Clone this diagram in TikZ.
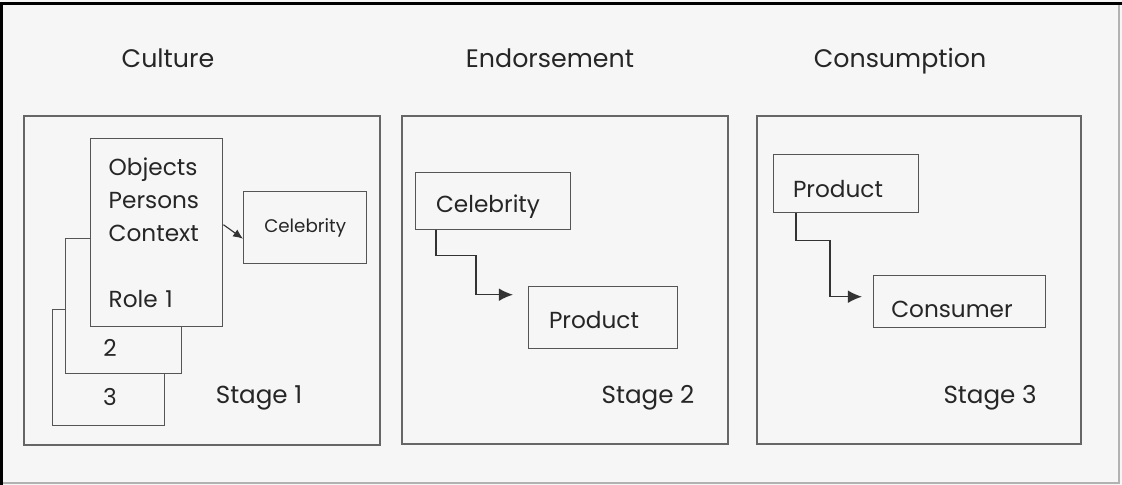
\documentclass[tikz,border=0pt]{standalone}
\usepackage{fontspec}
\setmainfont{Poppins}
\usepackage{xcolor}
\usetikzlibrary{arrows.meta, positioning, calc}

\definecolor{paper}{HTML}{F6F6F6}
\definecolor{ink}{HTML}{262626}
\definecolor{edge}{HTML}{555555}

\begin{document}
\begin{tikzpicture}[
  x=0.025cm, y=-0.025cm,
  title/.style   = {font=\fontsize{18}{21}\selectfont, text=ink, anchor=base},
  stagebox/.style= {rectangle, draw=edge!90, line width=1.3pt, fill=paper,
                    anchor=north west, inner sep=0pt},
  box/.style     = {rectangle, draw=edge, line width=1pt, fill=paper,
                    anchor=north west, inner sep=0pt},
  txt/.style     = {font=\fontsize{16.5}{19}\selectfont, text=ink},
  small/.style   = {font=\fontsize{13}{15}\selectfont, text=ink},
  stage/.style   = {font=\fontsize{17.5}{20}\selectfont, text=ink},
  arr/.style     = {-{Latex[length=10pt,width=9pt]}, line width=1pt, black!80},
  sarr/.style    = {-{Latex[length=7pt,width=6pt]}, line width=0.8pt, black!80}
]

% ── Frame ────────────────────────────────────────────────────────────────────
\fill[paper] (0,0) rectangle (1122,485);
\useasboundingbox (0,0) rectangle (1122,485);
\draw[black!30, line width=0.8pt] (1119,4) -- (1119,483) -- (1,483);
\draw[black, line width=2.4pt] (1,485) -- (1,3.5) -- (1122,3.5);

% ── Titles ───────────────────────────────────────────────────────────────────
\node[title] (culture)     at (168,68) {Culture};
\node[title] (endorsement) at (550,68) {Endorsement};
\node[title] (consumption) at (900,68) {Consumption};

% ── Stage boxes ──────────────────────────────────────────────────────────────
\node[stagebox, minimum width=8.9cm,  minimum height=8.225cm] (s1) at (23,115)  {};
\node[stagebox, minimum width=8.15cm, minimum height=8.2cm]   (s2) at (401,115) {};
\node[stagebox, minimum width=8.1cm,  minimum height=8.2cm]   (s3) at (756,115) {};

% ── Stage 1: roles ───────────────────────────────────────────────────────────
\node[box, minimum width=2.8cm, minimum height=2.9cm]   (role3) at (52,309) {};
\node[box, minimum width=2.9cm, minimum height=3.375cm] (role2) at (65,238) {};
\node[box, minimum width=3.3cm, minimum height=4.7cm, inner xsep=0.45cm,
      txt, align=left, text width=2.4cm,
      font=\fontsize{16.5}{23.4}\selectfont] (role1) at (90,138)
      {Objects\\Persons\\Context\\[23.4pt]Role 1};
\node[txt] (n2) at (110,348) {2};
\node[txt] (n3) at (110,397) {3};

\node[box, minimum width=3.075cm, minimum height=1.8cm] (cel1) at (243,191) {};
\node[small] at (cel1.center) {Celebrity};

\node[stage] (st1) at (259,398) {Stage 1};

% ── Stage 2 ──────────────────────────────────────────────────────────────────
\node[box, minimum width=3.875cm, minimum height=1.425cm] (cel2) at (415,172) {};
\node[txt] at (488,207) {Celebrity};
\node[box, minimum width=3.725cm, minimum height=1.55cm] (prod2) at (528,286) {};
\node[txt] at (594,320) {Product};
\node[stage] (st2) at (648,398) {Stage 2};

% ── Stage 3 ──────────────────────────────────────────────────────────────────
\node[box, minimum width=3.625cm, minimum height=1.45cm] (prod3) at (773,154) {};
\node[txt] at (838,189) {Product};
\node[box, minimum width=4.3cm, minimum height=1.3cm] (cons3) at (873,275) {};
\node[txt] at (952,309) {Consumer};
\node[stage] (st3) at (990,398) {Stage 3};

% ── Arrows ───────────────────────────────────────────────────────────────────
\draw[sarr] ([yshift=0.2cm]role1.east) -- ([yshift=-0.275cm]cel1.west);
\draw[arr] ([xshift=0.525cm]cel2.south west) |- ++(40,25)
           |- ([xshift=-0.375cm, yshift=0.575cm]prod2.west);
\draw[arr] ([xshift=0.575cm]prod3.south west) |- ++(34,27)
           |- ([xshift=-0.275cm, yshift=0.125cm]cons3.west);
\end{tikzpicture}
\end{document}
